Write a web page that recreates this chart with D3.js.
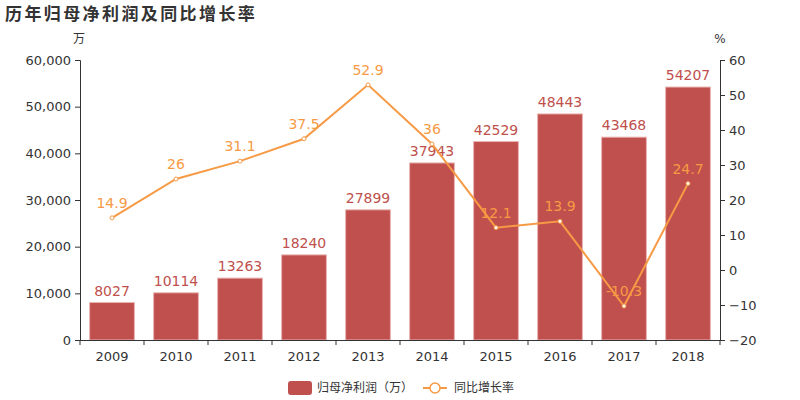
<!DOCTYPE html>
<html><head><meta charset="utf-8">
<script src="https://cdn.jsdelivr.net/npm/d3@7"></script>
<style>body{margin:0;background:#fff;font-family:"DejaVu Sans","Noto Sans CJK SC",sans-serif;}</style>
</head><body><svg id="c" width="800" height="400"></svg>
<script>
const years = ["2009","2010","2011","2012","2013","2014","2015","2016","2017","2018"];
const profit = [8027,10114,13263,18240,27899,37943,42529,48443,43468,54207];
const growth = [14.9,26,31.1,37.5,52.9,36,12.1,13.9,-10.3,24.7];
const leftTicks = [0,10000,20000,30000,40000,50000,60000];
const rightTicks = [-20,-10,0,10,20,30,40,50,60];

const svg = d3.select("#c");
const L=80,R=720,T=60,B=340;
const barColor="#c0504d", lineColor="#f79a45", txt="#333";
const font='"DejaVu Sans","Noto Sans CJK SC",sans-serif';

const x = d3.scaleBand().domain(years).range([L,R]).paddingInner(0.3).paddingOuter(0.15);
const xb = d3.scaleBand().domain(years).range([L,R]);
const yL = d3.scaleLinear().domain([0,60000]).range([B,T]);
const yR = d3.scaleLinear().domain([-20,60]).range([B,T]);

svg.append("text").attr("x",5).attr("y",20).text("历年归母净利润及同比增长率")
  .attr("font-size",17).attr("font-weight","bold").attr("fill",txt).attr("font-family",font).attr("letter-spacing",2.4);
svg.append("text").attr("x",79).attr("y",43).attr("text-anchor","middle").text("万").attr("font-size",12).attr("fill",txt).attr("font-family",font);
svg.append("text").attr("x",720).attr("y",43).attr("text-anchor","middle").text("%").attr("font-size",12).attr("fill",txt).attr("font-family",font);

// bars
svg.selectAll("rect.bar").data(years).enter().append("rect").attr("class","bar")
  .attr("x",d=>x(d)).attr("width",x.bandwidth())
  .attr("y",(d,i)=>yL(profit[i])).attr("height",(d,i)=>B-yL(profit[i]))
  .attr("fill",barColor).attr("stroke","#e8b5b3").attr("stroke-width",1);
svg.selectAll("text.bl").data(years).enter().append("text").attr("class","bl")
  .attr("x",d=>x(d)+x.bandwidth()/2).attr("y",(d,i)=>yL(profit[i])-7)
  .attr("text-anchor","middle").attr("font-size",14).attr("fill",barColor).attr("font-family",font)
  .text((d,i)=>profit[i]);

// axes
const fmt = d3.format(",");
const gl = svg.append("g").attr("transform",`translate(${L},0)`)
  .call(d3.axisLeft(yL).tickValues(leftTicks).tickFormat(fmt).tickSizeOuter(0).tickSize(5).tickPadding(4));
const gr = svg.append("g").attr("transform",`translate(${R},0)`)
  .call(d3.axisRight(yR).tickValues(rightTicks).tickSizeOuter(0).tickSize(5).tickPadding(4));
const gx = svg.append("g").attr("transform",`translate(0,${B})`)
  .call(d3.axisBottom(xb).tickSize(0).tickPadding(12));
// category boundary ticks
const bounds = years.map(d=>xb(d)).concat([R]);
svg.append("g").selectAll("line").data(bounds).enter().append("line")
  .attr("x1",d=>d).attr("x2",d=>d).attr("y1",B).attr("y2",B+5).attr("stroke",txt);
[gl,gr,gx].forEach(g=>{
  g.selectAll("path,line").attr("stroke",txt);
  g.selectAll("text").attr("fill",txt).attr("font-size",13).attr("font-family",font);
});
gx.select("path.domain").attr("d",`M${L},0.5H${R}`);

// line
const pts = years.map((d,i)=>[xb(d)+xb.bandwidth()/2, yR(growth[i])]);
svg.append("path").datum(pts).attr("d",d3.line()).attr("fill","none").attr("stroke",lineColor).attr("stroke-width",2);
svg.selectAll("circle.p").data(pts).enter().append("circle").attr("class","p")
  .attr("cx",d=>d[0]).attr("cy",d=>d[1]).attr("r",2).attr("fill","#fff").attr("stroke",lineColor).attr("stroke-width",1);
svg.selectAll("text.ll").data(pts).enter().append("text").attr("class","ll")
  .attr("x",d=>d[0]).attr("y",d=>d[1]-10).attr("text-anchor","middle")
  .attr("font-size",14).attr("fill",lineColor).attr("font-family",font)
  .text((d,i)=>growth[i]);

// legend
svg.append("rect").attr("x",288).attr("y",381).attr("width",24).attr("height",14).attr("rx",3).attr("fill",barColor);
svg.append("text").attr("x",317).attr("y",392).text("归母净利润（万）").attr("font-size",12).attr("fill",txt).attr("font-family",font);
svg.append("line").attr("x1",423).attr("x2",447).attr("y1",388).attr("y2",388).attr("stroke",lineColor).attr("stroke-width",2);
svg.append("circle").attr("cx",435).attr("cy",388).attr("r",5).attr("fill","#fff").attr("stroke",lineColor).attr("stroke-width",1.5);
svg.append("text").attr("x",454).attr("y",392).text("同比增长率").attr("font-size",12).attr("fill",txt).attr("font-family",font);
</script></body></html>
